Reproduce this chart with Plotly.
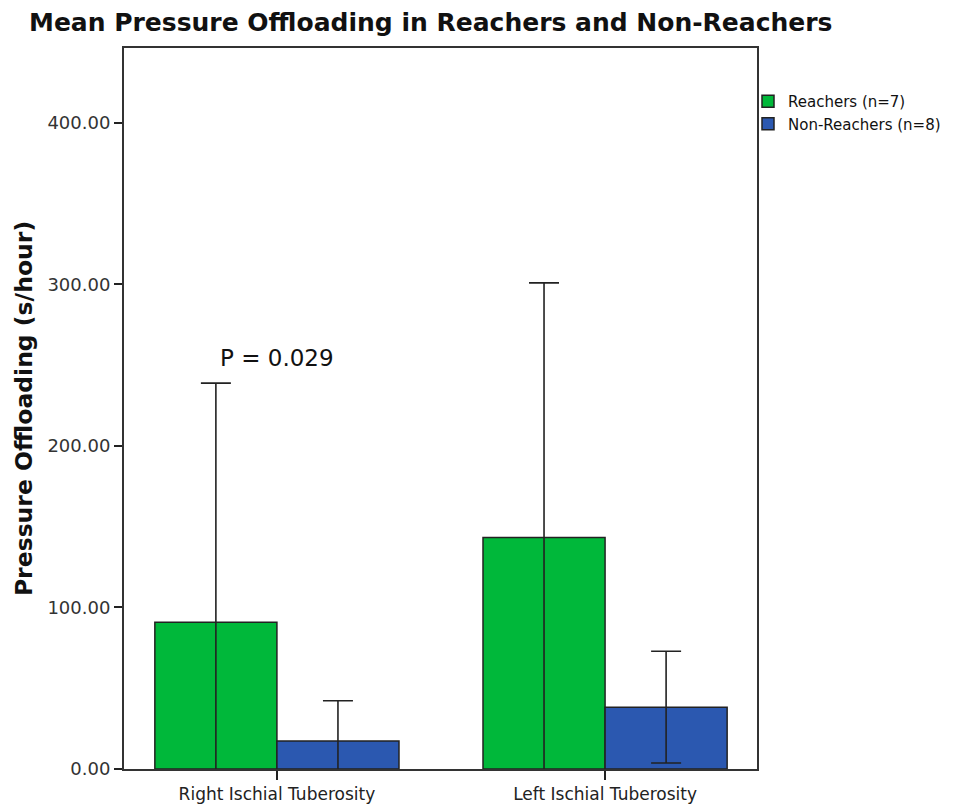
import plotly.graph_objects as go

categories = ["Right Ischial Tuberosity", "Left Ischial Tuberosity"]
reachers_mean = [90.9, 143.4]
reachers_sd = [148.0, 157.6]
nonreachers_mean = [17.3, 38.3]
nonreachers_sd = [25.0, 34.6]
series_names = ["Reachers (n=7)", "Non-Reachers (n=8)"]
y_ticks = [0, 100, 200, 300, 400]
p_label = "P = 0.029"

GREEN = "#00b83a"
BLUE = "#2b58b0"
EDGE = "#222222"
xpos = list(range(len(categories)))

W, H = 950, 798  # page body has an 8px margin

err_style = dict(type="data", visible=True, color=EDGE, thickness=1.6, width=15)

fig = go.Figure()
fig.add_trace(go.Bar(
    x=xpos, y=reachers_mean, name=series_names[0],
    marker=dict(color=GREEN, line=dict(color=EDGE, width=1.5)),
    error_y=dict(array=reachers_sd, arrayminus=reachers_sd, **err_style),
))
fig.add_trace(go.Bar(
    x=xpos, y=nonreachers_mean, name=series_names[1],
    marker=dict(color=BLUE, line=dict(color=EDGE, width=1.5)),
    error_y=dict(array=nonreachers_sd, arrayminus=nonreachers_sd, **err_style),
))

fig.add_annotation(
    x=0, y=254.7, xref="x", yref="y", text=p_label, showarrow=False,
    font=dict(family="DejaVu Sans", size=23, color="#111111"),
)

fig.update_layout(
    width=W, height=H,
    margin=dict(l=116, r=201, t=40, b=37, autoexpand=False),
    paper_bgcolor="white", plot_bgcolor="white",
    barmode="group", bargap=0.256, bargroupgap=0,
    title=dict(
        text="<b>Mean Pressure Offloading in Reachers and Non-Reachers</b>",
        x=21 / W, xanchor="left", xref="container",
        y=1 - 14 / H, yanchor="middle", yref="container",
        font=dict(family="DejaVu Sans", size=25, color="#111111"),
    ),
    legend=dict(
        x=1 - 9 / 633, xanchor="left", y=1 - 37 / 721, yanchor="top",
        font=dict(family="DejaVu Sans", size=15, color="#111111"),
        bgcolor="rgba(0,0,0,0)", tracegroupgap=0, itemwidth=30,
    ),
    showlegend=True,
)

fig.update_xaxes(
    range=[-0.466, 1.463], tickvals=xpos, ticktext=categories,
    ticks="outside", ticklen=9, tickwidth=1.5, tickcolor=EDGE,
    showline=True, linecolor="#333333", linewidth=2, mirror=True,
    showgrid=False, zeroline=False, automargin=False,
    tickfont=dict(family="DejaVu Sans", size=17, color="#222222"),
)
fig.update_yaxes(
    range=[0, 446.4], tickvals=y_ticks, tickformat=".2f",
    ticks="outside", ticklen=8, tickwidth=1.5, tickcolor=EDGE,
    showline=True, linecolor="#333333", linewidth=2, mirror=True,
    showgrid=False, zeroline=False, automargin=False,
    tickfont=dict(family="DejaVu Sans", size=18, color="#333333"),
    title=dict(text="<b>Pressure Offloading (s/hour)</b>", standoff=8,
               font=dict(family="DejaVu Sans", size=23.5, color="#111111")),
)

fig.write_html("out.html")
